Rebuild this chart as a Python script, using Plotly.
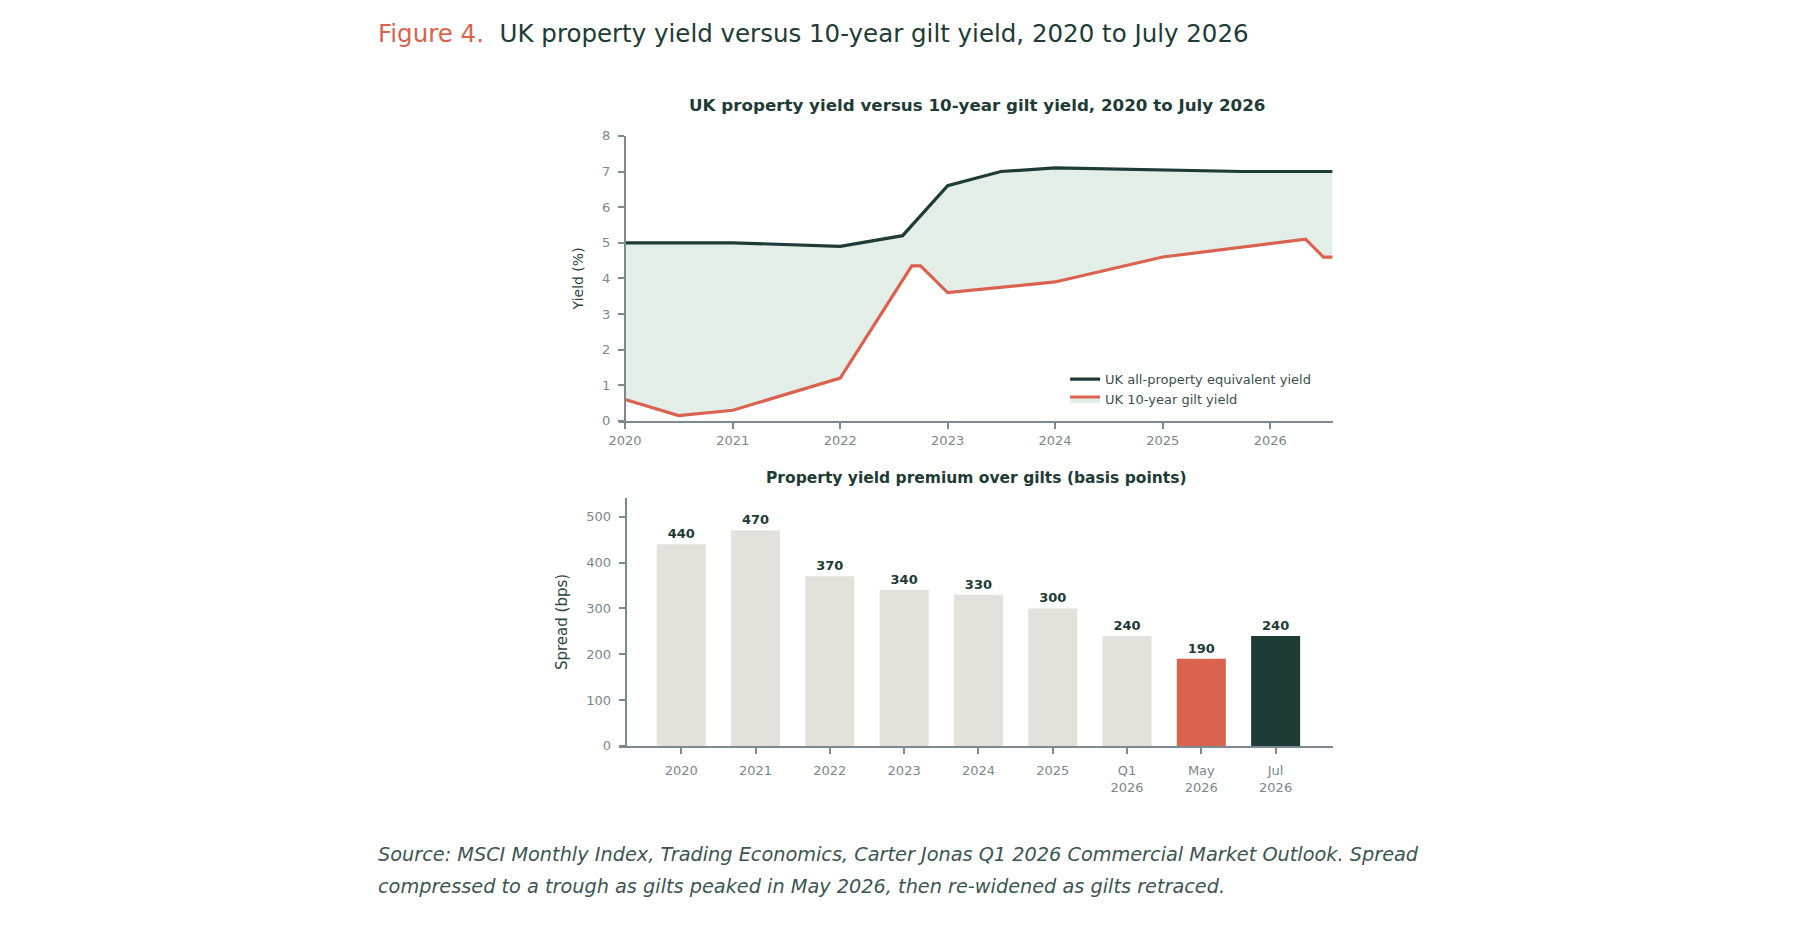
import plotly.graph_objects as go

# top panel: yields (%)
property_dates = ["2020-01-01", "2021-01-01", "2022-01-01", "2022-08-01", "2023-01-01",
                  "2023-07-01", "2024-01-01", "2025-01-01", "2025-10-01", "2026-08-01"]
property_yield = [5.0, 5.0, 4.9, 5.2, 6.6, 7.0, 7.1, 7.05, 7.0, 7.0]

gilt_dates = ["2020-01-01", "2020-07-01", "2021-01-01", "2022-01-01", "2022-09-01",
              "2022-10-01", "2023-01-01", "2023-07-01", "2024-01-01", "2025-01-01",
              "2026-05-01", "2026-07-01", "2026-08-01"]
gilt_yield = [0.6, 0.15, 0.3, 1.2, 4.35, 4.35, 3.6, 3.75, 3.9, 4.6, 5.1, 4.6, 4.6]

# bottom panel: spread (bps)
periods = ["2020", "2021", "2022", "2023", "2024", "2025", "Q1<br>2026", "May<br>2026", "Jul<br>2026"]
spread = [440, 470, 370, 340, 330, 300, 240, 190, 240]

DARK = "#1e3b36"
CORAL = "#d9634f"
SAND = "#e3e1db"
FILL = "#e4eee9"
GRID = "#7d8a8f"
TICK = "#7a878c"
FONT = "DejaVu Sans"

W, H = 1800, 930
px = lambda v: v / W
py = lambda v: (H - v) / H

bar_colors = [SAND] * 7 + [CORAL, DARK]

fig = go.Figure()

fig.add_trace(go.Scatter(
    x=property_dates, y=property_yield, mode="lines",
    name="UK all-property equivalent yield",
    line=dict(color=DARK, width=3.2),
    xaxis="x", yaxis="y"))

fig.add_trace(go.Scatter(
    x=gilt_dates, y=gilt_yield, mode="lines",
    name="UK 10-year gilt yield",
    line=dict(color=CORAL, width=3.2),
    fill="tonexty", fillcolor=FILL,
    xaxis="x", yaxis="y"))

fig.add_trace(go.Bar(
    x=periods, y=spread, marker=dict(color=bar_colors, line=dict(width=0)),
    width=0.66, text=[str(v) for v in spread], textposition="outside",
    textfont=dict(family=FONT, size=13, color=DARK, weight="bold"),
    cliponaxis=False, showlegend=False,
    xaxis="x2", yaxis="y2"))

axis_common = dict(
    showgrid=False, zeroline=False, showline=True, linecolor=GRID, linewidth=2,
    ticks="outside", tickcolor=GRID, ticklen=6, tickwidth=1.5,
    tickfont=dict(family=FONT, size=13, color=TICK),
)

fig.update_layout(
    width=W, height=H,
    margin=dict(l=0, r=0, t=0, b=0),
    paper_bgcolor="white", plot_bgcolor="white",
    font=dict(family=FONT, color=DARK),
    xaxis=dict(axis_common, domain=[px(612), px(1330)], anchor="y", type="date",
               range=["2019-12-10", "2026-08-01"], dtick="M12", tick0="2020-01-01",
               tickformat="%Y"),
    yaxis=dict(axis_common, domain=[py(420.7), py(131)], anchor="free", position=px(618.3),
               range=[0, 8], dtick=1, ticklabelstandoff=5,
               title=dict(text="Yield (%)", font=dict(family=FONT, size=14, color="#2c4642"), standoff=14)),
    xaxis2=dict(axis_common, domain=[px(612), px(1330)], anchor="y2", type="category",
                range=[-0.843, 8.767], ticklabelstandoff=6),
    yaxis2=dict(axis_common, domain=[py(751), py(499)], anchor="free", position=px(619),
                range=[0, 541], tickvals=[0, 100, 200, 300, 400, 500], ticklabelstandoff=5,
                title=dict(text="Spread (bps)", font=dict(family=FONT, size=15, color="#2c4642"), standoff=14)),
    legend=dict(x=px(1061), y=py(363), xanchor="left", yanchor="top", traceorder="normal",
                bgcolor="rgba(0,0,0,0)", font=dict(family=FONT, size=13, color="#3c4f4c"),
                itemwidth=30, tracegroupgap=0),
    showlegend=True,
    bargap=0.3,
)

fig.add_annotation(
    x=px(368), y=py(27), xref="paper", yref="paper", xanchor="left", yanchor="middle",
    showarrow=False,
    text="<span style='color:%s'>Figure 4.</span>  UK property yield versus 10-year gilt yield, 2020 to July 2026" % CORAL,
    font=dict(family=FONT, size=24.5, color=DARK))

fig.add_annotation(
    x=px(972), y=py(100), xref="paper", yref="paper", xanchor="center", yanchor="middle",
    showarrow=False, text="<b>UK property yield versus 10-year gilt yield, 2020 to July 2026</b>",
    font=dict(family=FONT, size=16.7, color=DARK))

fig.add_annotation(
    x=px(972), y=py(479), xref="paper", yref="paper", xanchor="center", yanchor="middle",
    showarrow=False, text="<b>Property yield premium over gilts (basis points)</b>",
    font=dict(family=FONT, size=15.5, color=DARK))

source_lines = [
    "Source: MSCI Monthly Index, Trading Economics, Carter Jonas Q1 2026 Commercial Market Outlook. Spread",
    "compressed to a trough as gilts peaked in May 2026, then re-widened as gilts retraced.",
]
for i, line in enumerate(source_lines):
    fig.add_annotation(
        x=px(368), y=py(861 + 33 * i), xref="paper", yref="paper", xanchor="left", yanchor="middle",
        showarrow=False, text="<i>%s</i>" % line,
        font=dict(family=FONT, size=19.3, color="#3d5551"))

# drop the default page margin so figure pixels line up with the window
fig.write_html("out.html", config={"displayModeBar": False},
               post_script="document.body.style.margin='0';")
